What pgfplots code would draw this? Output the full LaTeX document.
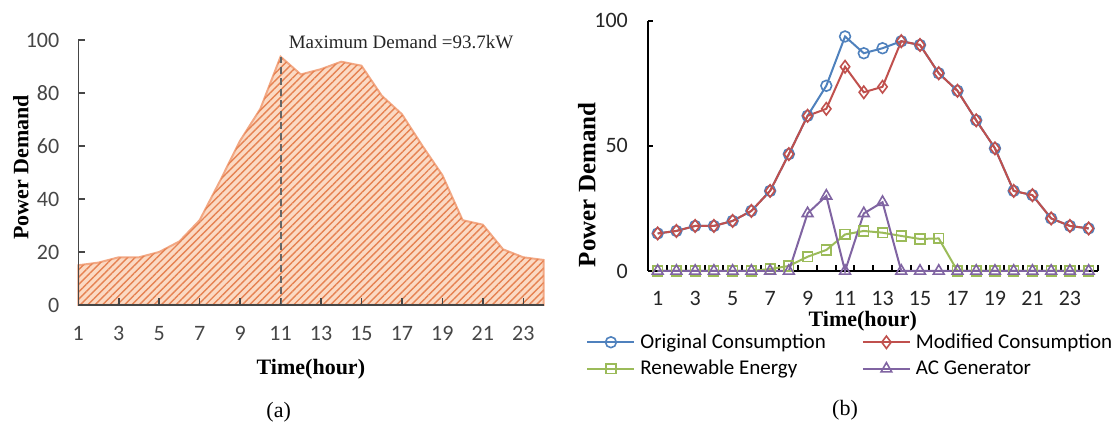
\documentclass[border=0pt]{standalone}
\usepackage{fontspec}
\setmainfont{Liberation Serif}
\newfontfamily\calibri{Carlito}
\usepackage{pgfplots}
\usepackage{pgfplotstable}
\pgfplotsset{compat=1.18}
\usetikzlibrary{patterns.meta}

\definecolor{origblue}{RGB}{79,129,189}
\definecolor{modred}{RGB}{192,80,77}
\definecolor{renewgreen}{RGB}{155,187,89}
\definecolor{acpurple}{RGB}{128,100,162}
\definecolor{areafill}{RGB}{251,218,196}
\definecolor{areahatch}{RGB}{230,130,82}
\definecolor{areaedge}{RGB}{242,168,132}
\definecolor{axisgray}{RGB}{70,70,70}

% hourly demand (kW)
\pgfplotstableread{
hour orig  mod  renew ac
1    15.0  15.0  0.0  0
2    16.0  16.0  0.0  0
3    18.0  18.0  0.0  0
4    18.0  18.0  0.0  0
5    20.0  20.0  0.0  0
6    24.0  24.0  0.0  0
7    32.0  32.0  0.8  0
8    46.7  46.7  2.0  0
9    62.0  62.0  5.7  23.0
10   74.0  64.8  8.4  30.0
11   93.7  81.6  14.6 0
12   87.0  71.4  16.0 23.0
13   89.0  73.6  15.3 27.5
14   91.8  91.8  14.0 0
15   90.3  90.3  12.8 0
16   79.0  79.0  13.0 0
17   72.0  72.0  0.0  0
18   60.2  60.2  0.0  0
19   49.0  49.0  0.0  0
20   32.0  32.0  0.0  0
21   30.3  30.3  0.0  0
22   21.0  21.0  0.0  0
23   18.0  18.0  0.0  0
24   17.0  17.0  0.0  0
}\demand

\pgfplotsset{
  ticknums/.style={
    /pgf/number format/assume math mode=true,
    ticklabel style={font=\calibri\fontsize{11}{13}\selectfont},
  },
}

\begin{document}
\begin{tikzpicture}
\path[use as bounding box] (0,0) rectangle (558.5pt,211pt);

% (a) area chart
\begin{axis}[
  at={(39.15pt,58.5pt)}, anchor=south west,
  scale only axis, width=232.6pt, height=132.5pt,
  xmin=1, xmax=24, ymin=0, ymax=100,
  axis x line=bottom, axis y line=left,
  axis line style={-, axisgray, line width=0.75pt},
  axis on top,
  xtick={1,3,...,23}, ytick={0,20,...,100},
  tick align=inside, major tick length=3.5pt,
  tick style={axisgray, line width=0.75pt},
  ticknums,
  ticklabel style={text=axisgray},
  xticklabel style={yshift=-7pt},
  yticklabel style={xshift=-6pt},
  xlabel={Time(hour)}, ylabel={Power Demand},
  label style={font=\bfseries\fontsize{11}{13}\selectfont},
  xlabel style={at={(axis description cs:0.5,-0.264)}, anchor=base},
  ylabel style={at={(axis description cs:-0.1236,0.519)}, anchor=center},
  clip=false,
]
\addplot[draw=areaedge, line width=1pt, fill=areafill] table[x=hour,y=orig] {\demand} \closedcycle;
\addplot[draw=none, pattern={Lines[angle=45,distance=2.6pt,line width=0.7pt]}, pattern color=areahatch] table[x=hour,y=orig] {\demand} \closedcycle;
\addplot[color=black!60, line width=1pt, dash pattern=on 3.5pt off 2pt] coordinates {(11,0) (11,93.7)};
\node[anchor=base west, font=\fontsize{9.5}{11}\selectfont, text=black!85] at (axis cs:11.06,96.9) {Maximum Demand =93.7kW};
\end{axis}

% (b) line chart
\begin{axis}[
  at={(324.15pt,75.5pt)}, anchor=south west,
  scale only axis, width=224.85pt, height=125.15pt,
  xmin=0.5, xmax=24.5, ymin=0, ymax=100,
  axis x line=bottom, axis y line=left,
  axis line style={-, black, line width=1pt},
  xtick={1,3,...,23}, minor xtick={0.5,1.5,...,24.5},
  ytick={0,50,100},
  tick align=inside, major tick length=2.5pt, minor tick length=3pt,
  major x tick style={draw=none},
  tick style={black, line width=1pt},
  ticknums,
  ticklabel style={text=black!85},
  xticklabel style={yshift=-6.8pt},
  yticklabel style={xshift=-6.7pt},
  xlabel={Time(hour)}, ylabel={Power Demand},
  xlabel style={font=\bfseries\fontsize{11}{13}\selectfont, at={(axis description cs:0.477,-0.222)}, anchor=base},
  ylabel style={font=\bfseries\fontsize{12.5}{14}\selectfont, at={(axis description cs:-0.137,0.344)}, anchor=center},
  clip=false,
  legend columns=2,
  legend cell align=left,
  legend image code/.code={\draw[mark repeat=2,mark phase=2,#1] plot coordinates {(0pt,0pt) (11.75pt,0pt) (23.5pt,0pt)};},
  legend style={at={(axis description cs:-0.1385,-0.236)}, anchor=north west, draw=none, fill=none,
    font=\calibri\fontsize{10.5}{12}\selectfont, inner sep=0pt,
    nodes={inner xsep=2.5pt, inner ysep=1.5pt},
    row sep=1.5pt,
    /tikz/every even column/.append style={column sep=15.5pt}},
  every axis plot/.append style={line width=1pt, mark options={fill=white, solid, line width=0.8pt}},
]
\addplot[color=origblue, mark=o, mark size=2.7pt] table[x=hour,y=orig] {\demand};
\addlegendentry{Original Consumption}
\addplot[color=modred, mark=diamond, mark size=3.1pt] table[x=hour,y=mod] {\demand};
\addlegendentry{Modified Consumption}
\addplot[color=renewgreen, mark=square, mark size=2.4pt] table[x=hour,y=renew] {\demand};
\addlegendentry{Renewable Energy}
\addplot[color=acpurple, mark=triangle, mark size=3.1pt] table[x=hour,y=ac] {\demand};
\addlegendentry{AC Generator}
\end{axis}

\node[font=\fontsize{11}{13}\selectfont] at (139.35pt,5pt) {(a)};
\node[font=\fontsize{11}{13}\selectfont] at (422.5pt,5.75pt) {(b)};
\end{tikzpicture}
\end{document}
